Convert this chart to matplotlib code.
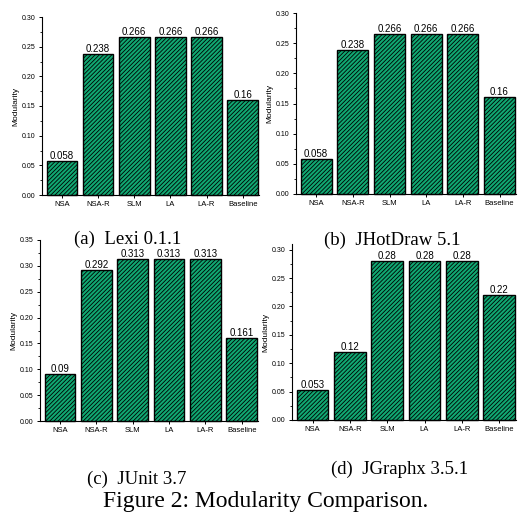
import numpy as np
import matplotlib
matplotlib.use('Agg')
import matplotlib.pyplot as plt

plt.rcParams['font.family'] = ['Liberation Sans', 'DejaVu Sans']
plt.rcParams['hatch.linewidth'] = 0.6
plt.rcParams['hatch.color'] = 'black'

methods = ['NSA', 'NSA-R', 'SLM', 'LA', 'LA-R', 'Baseline']
lexi = [0.058, 0.238, 0.266, 0.266, 0.266, 0.16]
jhotdraw = [0.058, 0.238, 0.266, 0.266, 0.266, 0.16]
junit = [0.09, 0.292, 0.313, 0.313, 0.313, 0.161]
jgraphx = [0.053, 0.12, 0.28, 0.28, 0.28, 0.22]
labels_a = ['0.058', '0.238', '0.266', '0.266', '0.266', '0.16']
labels_b = ['0.058', '0.238', '0.266', '0.266', '0.266', '0.16']
labels_c = ['0.09', '0.292', '0.313', '0.313', '0.313', '0.161']
labels_d = ['0.053', '0.12', '0.28', '0.28', '0.28', '0.22']

fig = plt.figure(figsize=(5.18, 5.12), dpi=100)
W, H = 518.0, 512.0


def px_axes(x0, x1, ytop, ybot):
    return fig.add_axes([x0 / W, 1 - ybot / H, (x1 - x0) / W, (ybot - ytop) / H])


panels = [
    (px_axes(42, 259, 17, 195), lexi, labels_a, 0.30, '(a)  Lexi 0.1.1', (128, 239)),
    (px_axes(296, 516, 13, 194), jhotdraw, labels_b, 0.30, '(b)  JHotDraw 5.1', (392, 240)),
    (px_axes(40, 258, 240, 421), junit, labels_c, 0.35, '(c)  JUnit 3.7', (137, 479)),
    (px_axes(292, 516, 244, 420), jgraphx, labels_d, 0.31, '(d)  JGraphx 3.5.1', (400, 469)),
]

x = np.arange(len(methods))
for ax, vals, labs, top, cap, (cx, cy) in panels:
    bars = ax.bar(x, vals, width=0.85, color='#10a872', edgecolor='black',
                  linewidth=1.0, hatch='////////', clip_on=False)
    ax.bar_label(bars, labels=labs, padding=0, fontsize=7)
    ax.set_xlim(-0.55, 5.45)
    ax.set_ylim(0, top)
    ax.set_yticks(np.arange(0, top + 0.001, 0.05))
    ax.set_yticklabels(['%.2f' % v for v in np.arange(0, top + 0.001, 0.05)])
    ax.yaxis.set_minor_locator(matplotlib.ticker.MultipleLocator(0.025))
    ax.set_xticks(x)
    ax.set_xticklabels(methods)
    ax.tick_params(axis='x', labelsize=5.5)
    ax.tick_params(axis='y', labelsize=5)
    ax.tick_params(axis='both', direction='out', length=2.5, width=0.7, pad=2)
    ax.tick_params(axis='y', which='minor', length=1.5, width=0.6)
    ax.spines['top'].set_visible(False)
    ax.spines['right'].set_visible(False)
    ax.spines['left'].set_linewidth(0.8)
    ax.spines['bottom'].set_linewidth(0.8)
    ax.set_ylabel('Modularity', fontsize=6, labelpad=2)
    fig.text(cx / W, 1 - cy / H, cap, ha='center', va='center',
             fontsize=13.5, family='Liberation Serif')

fig.text(266 / W, 1 - 501 / H, 'Figure 2: Modularity Comparison.', ha='center',
         va='center', fontsize=17, family='Liberation Serif')

fig.savefig('out.png', dpi=100)
